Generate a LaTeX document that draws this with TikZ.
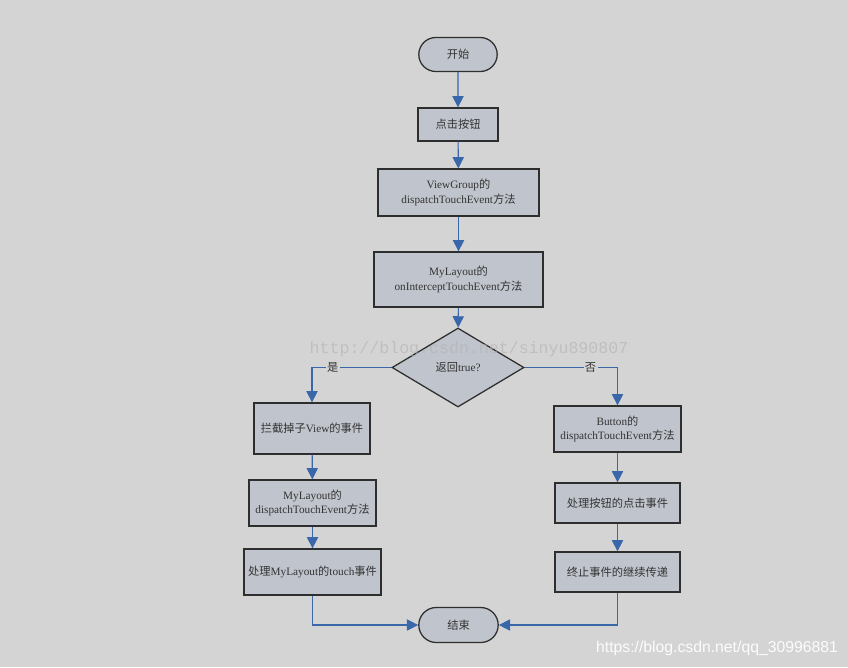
\documentclass[tikz,border=0pt]{standalone}
\usepackage{fontspec}
\setmainfont{Liberation Serif}
\newfontfamily\cjk{Noto Sans CJK SC}
\newfontfamily\wmmono{Liberation Mono}
\newfontfamily\wmsans{Liberation Sans}
\usetikzlibrary{arrows.meta,shapes.geometric,shapes.misc}
\definecolor{BgGray}{HTML}{D4D4D4}
\definecolor{BoxFill}{HTML}{C0C4CC}
\definecolor{EdgeBlue}{HTML}{3A66AA}
\definecolor{BoxLine}{HTML}{2E2E2E}
\definecolor{InkGray}{HTML}{333333}
\newcommand{\zh}[1]{{\cjk #1}}

\begin{document}
\begin{tikzpicture}[
  x=0.025cm, y=-0.025cm,
  font=\fontsize{8}{10.5}\selectfont,
  procbox/.style={draw=BoxLine, fill=BoxFill, line width=0.9pt, text=InkGray,
    align=center, inner sep=2pt},
  termbox/.style={procbox, rounded rectangle, minimum width=2.1cm, minimum height=0.85cm},
  decbox/.style={procbox, diamond, inner sep=0pt, minimum width=3.3cm, minimum height=1.975cm},
  flow/.style={-{Triangle[length=8pt,width=8pt]}, line width=0.8pt, draw=EdgeBlue},
  branchlabel/.style={fill=BgGray, inner sep=1pt, text=InkGray}
]
\fill[BgGray] (0,0) rectangle (848,667);

% main column
\node[termbox] (start) at (458,54.5) {\zh{开始}};
\node[procbox, minimum width=2.0cm, minimum height=0.825cm] (click) at (458,124.5) {\zh{点击按钮}};
\node[procbox, minimum width=4.025cm, minimum height=1.175cm] (vgdispatch) at (458.5,192.5)
  {ViewGroup\zh{的}\\dispatchTouchEvent\zh{方法}};
\node[procbox, minimum width=4.225cm, minimum height=1.375cm] (intercept) at (458.5,279.5)
  {MyLayout\zh{的}\\onInterceptTouchEvent\zh{方法}};
\node[decbox] (istrue) at (458,367.5) {\zh{返回}true?};

% left branch
\node[procbox, minimum width=2.9cm, minimum height=1.275cm] (blockview) at (312,428.5)
  {\zh{拦截掉子}View\zh{的事件}};
\node[procbox, minimum width=3.175cm, minimum height=1.15cm] (mldispatch) at (312.5,503)
  {MyLayout\zh{的}\\dispatchTouchEvent\zh{方法}};
\node[procbox, minimum width=3.425cm, minimum height=1.15cm] (mltouch) at (312.5,572)
  {\zh{处理}MyLayout\zh{的}touch\zh{事件}};

% right branch
\node[procbox, minimum width=3.175cm, minimum height=1.15cm] (btndispatch) at (617.5,429)
  {Button\zh{的}\\dispatchTouchEvent\zh{方法}};
\node[procbox, minimum width=3.125cm, minimum height=1.0cm] (btnclick) at (617.5,503)
  {\zh{处理按钮的点击事件}};
\node[procbox, minimum width=3.125cm, minimum height=1.0cm] (stoppass) at (617.5,572)
  {\zh{终止事件的继续传递}};

\node[termbox, minimum width=2.125cm, minimum height=0.875cm] (finish) at (458.5,625) {\zh{结束}};

\draw[flow] (start) -- (click);
\draw[flow] (click) -- (vgdispatch);
\draw[flow] (vgdispatch) -- (intercept);
\draw[flow] (intercept) -- (istrue);
\draw[flow] (istrue.west) -| node[branchlabel, pos=0.37] {\zh{是}} (blockview.north);
\draw[flow] (istrue.east) -| node[branchlabel, pos=0.355] {\zh{否}} (btndispatch.north);
\draw[flow] (blockview) -- (mldispatch);
\draw[flow] (mldispatch) -- (mltouch);
\draw[flow] (btndispatch) -- (btnclick);
\draw[flow] (btnclick) -- (stoppass);
\draw[flow] (mltouch.south) |- (finish.west);
\draw[flow] (stoppass.south) |- (finish.east);

% watermarks
\node[text=black!30, font=\wmmono\fontsize{11.8}{14}\selectfont, opacity=0.6] (wmcenter) at (469,349)
  {http://blog.csdn.net/sinyu890807};
\node[text=white!92!BgGray, font=\wmsans\fontsize{11.2}{13}\selectfont] (wmcorner) at (717,648)
  {https://blog.csdn.net/qq\_30996881};
\end{tikzpicture}
\end{document}
